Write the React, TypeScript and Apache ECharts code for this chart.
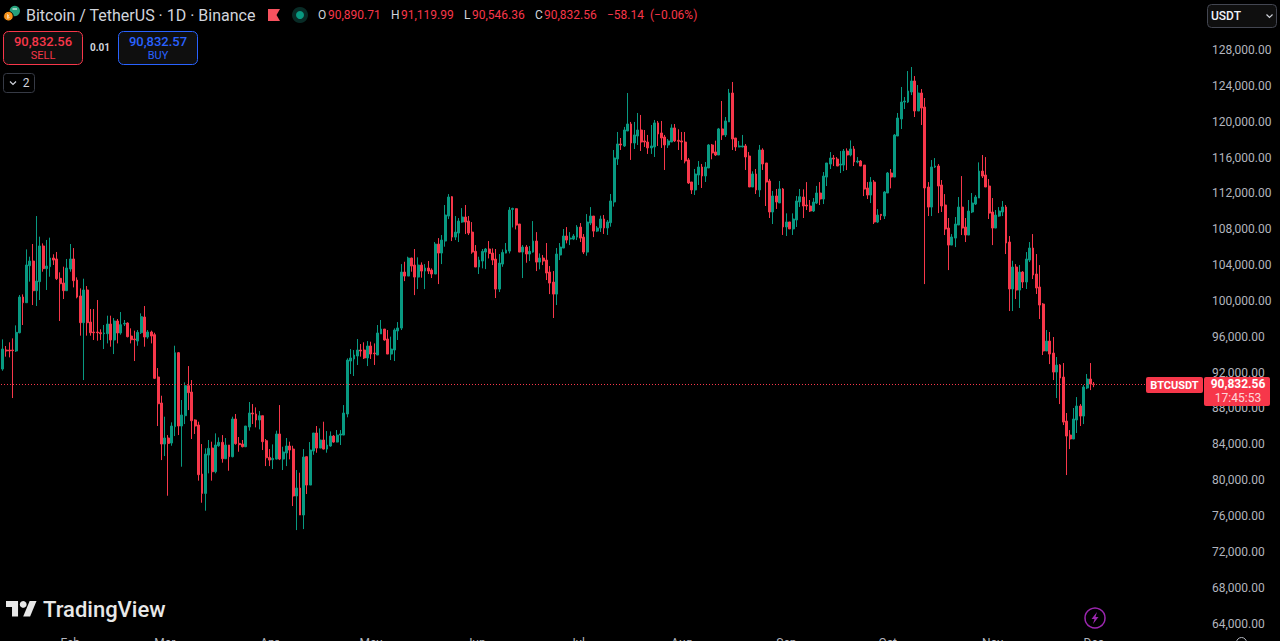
import React, { useEffect, useRef } from "react";
import * as echarts from "echarts";

const firstDay = "2025-01-12";
const lastLabelledDay = "2025-12-01";
const slotCount = 356;
const monthNames = ["Jan", "Feb", "Mar", "Apr", "May", "Jun", "Jul", "Aug", "Sep", "Oct", "Nov", "Dec"];

const opens = [
  92570, 94690, 94690, 94690, 94580, 96620, 100600, 99970, 104100, 104620,
  101310, 102320, 106300, 103770, 103990, 104960, 104850, 102690, 102170, 101310,
  103730, 104850, 102500, 100720, 97740, 101390, 97810, 96700, 96700, 96620,
  96510, 96510, 97590, 95810, 97930, 96590, 97590, 97700, 96250, 95920,
  95690, 96620, 98370, 96140, 96700, 96400, 91680, 88780, 84200, 84870,
  84310, 86130, 94390, 86210, 87360, 90710, 90000, 86880, 86320,
  80850, 78690, 82970, 83750, 81110, 84010, 84390, 82560, 84090, 82790,
  86990, 84270, 84200, 83900, 86100, 87660, 87550, 86880, 87360, 84570,
  82710, 82450, 82520, 85320, 82520, 83200, 83980, 83640, 78400, 79290,
  76280, 82790, 79620, 83420, 85430, 83750, 84650, 83640, 83980, 85090,
  84420, 85200, 85200, 87550, 93460, 93690, 94020, 94690, 94690, 93800,
  95140, 94350, 94130, 96480, 97030, 95920, 94240, 94690, 96810,
  97140, 103390, 102940, 104950, 104170, 102830, 104170, 103500, 103840, 103610,
  103170, 106510, 105510, 106850, 109640, 111800, 107290, 107740, 108970, 109530,
  109080, 107850, 105700, 103950, 104620, 105620, 105960, 105510, 104840, 101490,
  104280, 105510, 105730, 110380, 110460, 108750, 105620, 106180, 105400, 105620,
  106850, 104500, 104950, 104730, 103390, 102270, 100930, 105290, 106070, 107410,
  107070, 107070, 107290, 108410, 107290, 105620, 108860, 109640, 107960,
  108310, 109310, 108310, 108900, 111210, 116010, 117680, 117460, 119130, 119910,
  117790, 118570, 119240, 118020, 117900, 117240, 117350, 120030, 118910, 118460,
  117570, 117900, 119470, 118090, 118020, 117900, 115900, 113440, 112550, 114220,
  115110, 114110, 115000, 117570, 116790, 116450, 119360, 118690, 120140, 123370,
  118350, 117350, 117350, 117460, 116340, 112880, 114330, 112550, 117010, 115560,
  113550, 110090, 111880, 111100, 112660, 108420, 108980, 108200, 109200, 111210,
  111760, 110870, 110760, 110200, 111090, 112210, 111540, 113990, 115440, 116110,
  116000, 115330, 115330, 116890, 116450, 117120, 115670, 115780, 115330, 112770,
  111980, 113430, 108970, 109830, 109640, 112210, 114440, 113990, 118570, 120470,
  122360, 122360, 123480, 124710, 121360, 123370, 121800, 112880, 110640, 115110,
  115220, 113100, 110870, 108300, 106400, 107180, 108640, 110640, 108410, 107520,
  110090, 110980, 111650, 114660, 114220, 112990, 110090, 108300, 109640,
  110090, 110650, 106740, 101500, 103950, 101380, 103390, 102280, 104730, 106070,
  103170, 101720, 99820, 94580, 95690, 94350, 92230, 93010, 91670, 86760,
  85200, 84760, 86880, 88440, 87320, 90450, 91450, 90890.71,
];

const closes = [
  94800, 94580, 94580, 94620, 96660, 100600, 99970, 104180, 104620, 101310,
  102390, 106300, 103770, 104060, 104960, 104730, 102650, 102090, 101310, 103840,
  104850, 102430, 100600, 97740, 101390, 97740, 96620, 96620, 96620, 96510,
  96590, 97590, 95810, 97930, 96590, 97520, 97670, 96180, 95840, 95840,
  96660, 98410, 96140, 96700, 96250, 91530, 88700, 84200, 84870, 84270,
  86210, 94390, 86210, 87440, 90710, 89930, 86800, 86210, 80780,
  78690, 83080, 83720, 81110, 84090, 84390, 82560, 84090, 82790, 86990,
  84240, 84130, 83900, 86210, 87660, 87550, 86880, 87360, 84460, 82670,
  82410, 82600, 85320, 82520, 83310, 83980, 83530, 78400, 79290, 76280,
  82750, 79620, 83530, 85430, 83750, 84650, 83640, 84090, 85090, 84420,
  85200, 85320, 87660, 93570, 93800, 94130, 94690, 94580, 93800, 95140,
  94240, 94280, 96590, 97030, 95810, 94240, 94800, 96920, 97150,
  103390, 102940, 104950, 104060, 102830, 104170, 103500, 103840, 103500, 103170,
  106510, 105510, 106960, 109750, 111760, 107290, 107850, 109080, 109530, 108970,
  107740, 105620, 103950, 104730, 105700, 105960, 105470, 104730, 101490, 104390,
  105580, 105840, 110310, 110490, 108630, 105620, 106180, 105400, 105700, 106850,
  104500, 104950, 104620, 103280, 102160, 100930, 105400, 106180, 107410, 106960,
  107180, 107410, 108410, 107180, 105620, 108970, 109640, 107960, 108300,
  109310, 108310, 108980, 111320, 116120, 117680, 117570, 119240, 119910, 117790,
  118690, 119240, 117900, 117900, 117240, 117460, 120030, 118800, 118350, 117570,
  118020, 119470, 118020, 117980, 117900, 115780, 113330, 112550, 114330, 115110,
  114110, 115110, 117570, 116680, 116450, 119360, 118690, 120250, 123370, 118240,
  117350, 117460, 117460, 116230, 112880, 114330, 112550, 117010, 115450, 113440,
  110090, 111880, 111210, 112660, 108420, 108980, 108200, 109310, 111320, 111800,
  110760, 110760, 110200, 111200, 112210, 111540, 114100, 115560, 116110, 116000,
  115220, 115440, 116890, 116450, 117120, 115670, 115780, 115220, 112650, 111980,
  113430, 108970, 109750, 109710, 112320, 114440, 113990, 118680, 120580, 122360,
  122470, 123590, 124710, 121360, 123370, 121690, 112770, 110640, 115110, 115220,
  112990, 110760, 108190, 106400, 107300, 108750, 110640, 108300, 107520, 110200,
  111090, 111760, 114660, 114100, 112880, 109970, 108300, 109750, 110200,
  110650, 106630, 101500, 103950, 101380, 103390, 102280, 104840, 106070, 103060,
  101610, 99710, 94580, 95690, 94240, 92230, 93010, 91560, 86650, 85090,
  84760, 86990, 88440, 87320, 90560, 91450, 90890, 90832.56,
];

const highs = [
  95880, 95140, 95550, 95990, 97440, 100830, 100900, 105920, 105110, 106520,
  109640, 107340, 106590, 106970, 107230, 105370, 105630, 103360, 103990, 104850,
  106520, 106070, 102800, 101570, 102650, 101830, 99270, 99270, 100270, 97000,
  97480, 98520, 98520, 98260, 98150, 98930, 98040, 97780, 97110, 96850,
  96920, 98780, 99600, 96920, 96850, 96620, 92680, 89590, 87250, 85200,
  86620, 95170, 94470, 89110, 91080, 92900, 91340, 86950, 86690,
  84200, 83720, 84650, 84460, 85390, 84940, 85200, 84870, 84090, 87250,
  87550, 84980, 84650, 86210, 88890, 88660, 88290, 87880, 87360, 84760,
  83640, 84160, 85690, 88550, 83900, 84870, 84460, 84010, 81300, 81000,
  83640, 82790, 84420, 85430, 86210, 85950, 86690, 85650, 85610, 85200,
  85760, 85760, 88550, 93760, 94800, 94690, 95920, 95360, 95550, 95690,
  95620, 95430, 97480, 98040, 97030, 96920, 96180, 97110, 97810,
  104280, 104540, 105100, 104990, 105960, 105030, 104470, 104280, 104620, 103800,
  106740, 107180, 107520, 110870, 112090, 111870, 109640, 109420, 110530, 110870,
  109640, 108970, 106400, 105100, 105960, 106070, 106850, 106030, 105960, 105400,
  105920, 106630, 110640, 110570, 110490, 108750, 106400, 106400, 106290, 109080,
  107850, 105470, 105290, 106630, 104060, 103500, 106070, 106630, 108190, 108410,
  107850, 107630, 108630, 108860, 107630, 109860, 110640, 109640, 108520,
  109680, 109760, 109200, 112100, 117010, 119020, 118350, 119580, 123370, 120140,
  120140, 121140, 120920, 119240, 118690, 119800, 120360, 120250, 120250, 118690,
  118240, 119880, 119910, 119320, 119020, 119020, 116120, 113440, 114890, 115780,
  115450, 115670, 117680, 117680, 118050, 119470, 122480, 120690, 123820, 124600,
  118350, 118020, 118690, 117680, 116790, 114630, 114890, 117570, 117200, 115560,
  113780, 112440, 112660, 113550, 112770, 109940, 108980, 109940, 111880, 112660,
  112620, 113430, 111430, 111650, 113000, 113430, 114550, 115560, 116780, 116450,
  116220, 116890, 117120, 117190, 118080, 117450, 116220, 115890, 115330, 113430,
  113990, 113660, 110420, 109860, 112430, 114550, 114890, 118790, 121140, 124040,
  122920, 125820, 126270, 125260, 124260, 123810, 122810, 113430, 115890, 116110,
  115440, 113660, 112090, 109420, 107630, 109530, 111760, 114100, 109420, 111430,
  112210, 111980, 115630, 116450, 116220, 113770, 111650, 110310, 110640,
  111320, 110870, 107410, 104650, 104280, 104170, 103500, 105620, 106740, 107630,
  105400, 104170, 99930, 96920, 96700, 96140, 93910, 93120, 93240, 87660,
  85760, 88220, 89440, 88660, 90780, 92010, 93240, 91119.99,
];

const lows = [
  92380, 93950, 93870, 89330, 94470, 96550, 97480, 99970, 102320, 99710,
  99600, 100270, 103430, 101390, 102870, 104180, 102500, 97930, 100380, 101310,
  103430, 101680, 100460, 96290, 91340, 96290, 96290, 95810, 95730, 95810,
  94800, 95430, 95060, 94240, 95430, 96400, 97370, 96100, 95430, 93460,
  95170, 96480, 95060, 95950, 95430, 91450, 86210, 82410, 82860, 78430,
  84010, 85090, 85200, 81670, 86430, 87990, 84760, 85320, 80110,
  77650, 76760, 80930, 80110, 80930, 83900, 82120, 82520, 81220, 82710,
  84130, 83340, 83830, 83860, 85690, 86430, 86060, 85840, 83530, 81740,
  81740, 81410, 82490, 82410, 81300, 81740, 82490, 77280, 74600, 76280,
  74710, 78620, 79620, 83000, 83230, 83750, 83600, 83230, 83900, 84350,
  84390, 84090, 85200, 87180, 92010, 91790, 93020, 93950, 93690, 92900,
  93690, 93020, 94130, 96480, 95730, 94240, 93570, 93460, 95810,
  96920, 102380, 102940, 103430, 100820, 101490, 102760, 101490, 103170, 102720,
  103170, 102050, 104280, 106220, 109300, 106850, 106960, 106740, 108890, 107630,
  107520, 105430, 103950, 103170, 103800, 103720, 104910, 104170, 100490, 101160,
  103980, 105470, 105470, 108370, 108150, 105620, 102720, 104430, 104620, 105550,
  103500, 103690, 104170, 102500, 100930, 98260, 99710, 104730, 106070, 106590,
  106400, 106960, 106960, 106740, 105400, 105210, 108630, 107290, 107850,
  107860, 107640, 107530, 108450, 110690, 115340, 117010, 117350, 119130, 115900,
  117120, 117570, 116900, 117350, 116570, 116570, 116230, 117460, 117240, 114780,
  117240, 117900, 117900, 117010, 115900, 115520, 113220, 112100, 111990, 113110,
  112770, 113440, 115000, 115970, 116340, 116450, 118130, 118460, 120140, 117010,
  116900, 117310, 117310, 114780, 112880, 112880, 112100, 111770, 114780, 110760,
  109420, 108750, 110430, 111100, 107530, 107410, 108200, 107530, 108420, 110650,
  109420, 110310, 110090, 110090, 110980, 110870, 110980, 112990, 114890, 115220,
  115220, 114440, 114660, 114770, 116300, 115220, 115520, 115220, 111870, 111540,
  111090, 108750, 108860, 109190, 109310, 112210, 112730, 113990, 118570, 119350,
  121580, 122250, 123140, 120690, 121360, 119800, 102050, 109640, 109640, 115000,
  109970, 110090, 107520, 103610, 106400, 106180, 108640, 107520, 106740, 107520,
  109970, 110870, 111650, 113880, 112880, 109310, 106400, 108300, 109560,
  109640, 105400, 99040, 99040, 100380, 99380, 101610, 101500, 104510, 102610,
  100940, 98150, 94130, 94580, 93120, 91340, 89330, 88660, 86320, 80740,
  83640, 84760, 85430, 86210, 86430, 90330, 90220, 90546.36,
];

const lastPrice = 90832.56;
const UP = "#089981";
const DOWN = "#f7374a";
const FONT = "Roboto, 'Liberation Sans', sans-serif";

const text = (x: number, y: number, t: string, fill: string, size = 12, weight = 400, align = "left") => ({
  type: "text",
  x,
  y,
  z: 100,
  silent: true,
  style: {
    text: t,
    fill,
    font: `${weight} ${size}px ${FONT}`,
    textAlign: align,
    textVerticalAlign: "middle",
  },
});

const box = (x: number, y: number, w: number, h: number, r: number, fill: string, stroke?: string) => ({
  type: "rect",
  z: 90,
  silent: true,
  shape: { x, y, width: w, height: h, r },
  style: { fill, stroke: stroke ?? "none", lineWidth: 1 },
});

const chevron = (x: number, y: number, color: string) => ({
  type: "polyline",
  z: 100,
  silent: true,
  shape: { points: [[x - 3, y - 1.5], [x, y + 1.5], [x + 3, y - 1.5]] },
  style: { stroke: color, lineWidth: 1.2, fill: "none" },
});

function headerGraphics() {
  const grey = "#d1d4dc";
  return [
    { type: "circle", z: 95, silent: true, shape: { cx: 14.8, cy: 11, r: 5.2 }, style: { fill: "#26a17b" } },
    { type: "polyline", z: 96, silent: true, shape: { points: [[12.5, 9], [17, 9]] }, style: { stroke: "#e8f5f0", lineWidth: 1.2, fill: "none" } },
    { type: "circle", z: 97, silent: true, shape: { cx: 8.4, cy: 16.2, r: 4.8 }, style: { fill: "#f7931a", stroke: "#000", lineWidth: 1 } },
    { type: "polyline", z: 98, silent: true, shape: { points: [[7.6, 14], [7.6, 18.4], [9.4, 17.4], [7.6, 16.2], [9.2, 15]] }, style: { stroke: "#fde4c0", lineWidth: 0.8, fill: "none" } },
    text(26, 15, "Bitcoin / TetherUS · 1D · Binance", grey, 16),
    { type: "polygon", z: 95, silent: true, shape: { points: [[268, 9], [280, 9], [276.5, 15], [280, 21], [268, 21]] }, style: { fill: "#f7525f" } },
    { type: "circle", z: 95, silent: true, shape: { cx: 300, cy: 15, r: 8 }, style: { fill: "#082b26" } },
    { type: "circle", z: 96, silent: true, shape: { cx: 300, cy: 15, r: 4 }, style: { fill: UP } },
    text(318, 15, "O", grey, 12), text(328, 15, "90,890.71", DOWN, 12),
    text(391, 15, "H", grey, 12), text(401, 15, "91,119.99", DOWN, 12),
    text(464, 15, "L", grey, 12), text(472, 15, "90,546.36", DOWN, 12),
    text(535, 15, "C", grey, 12), text(544, 15, "90,832.56", DOWN, 12),
    text(607, 15, "−58.14", DOWN, 12), text(650, 15, "(−0.06%)", DOWN, 12),
    box(3.5, 31.5, 79, 33, 5, "#0f0f0f", DOWN),
    text(43, 41, "90,832.56", DOWN, 13, 500, "center"),
    text(43, 55, "SELL", DOWN, 11, 400, "center"),
    text(100, 47, "0.01", grey, 10, 700, "center"),
    box(118.5, 31.5, 79, 33, 5, "#0f0f0f", "#2962ff"),
    text(158, 41, "90,832.57", "#2962ff", 13, 500, "center"),
    text(158, 55, "BUY", "#2962ff", 11, 400, "center"),
    box(3.5, 73.5, 31, 19, 3, "#000", "#363a45"),
    chevron(13, 83, grey),
    text(26, 83, "2", grey, 12, 400, "center"),
  ];
}

function rightGraphics() {
  return [
    box(1207.5, 4.5, 69, 23, 4, "#0f0f0f", "#434651"),
    text(1211, 16, "USDT", "#f0f3fa", 12, 500),
    chevron(1269.5, 16, "#d1d4dc"),
    box(1146, 377, 57, 16, 2, DOWN),
    text(1174.5, 385, "BTCUSDT", "#ffffff", 11, 700, "center"),
    box(1204, 377, 66, 29, 2, DOWN),
    text(1238, 384, "90,832.56", "#ffffff", 12, 700, "center"),
    text(1238, 398, "17:45:53", "rgba(255,255,255,0.8)", 12, 400, "center"),
  ];
}

function brandGraphics() {
  return [
    {
      type: "group",
      x: 6,
      y: 597.5,
      scaleX: 0.86,
      scaleY: 0.86,
      z: 100,
      silent: true,
      children: [
        { type: "polygon", z: 100, shape: { points: [[0, 4], [14, 4], [14, 22], [7, 22], [7, 11], [0, 11]] }, style: { fill: "#e8e8e8" } },
        { type: "circle", z: 100, shape: { cx: 20, cy: 8, r: 4 }, style: { fill: "#e8e8e8" } },
        { type: "polygon", z: 100, shape: { points: [[27.5, 4], [35.5, 4], [28, 22], [20, 22]] }, style: { fill: "#e8e8e8" } },
      ],
    },
    text(43, 609, "TradingView", "#e8e8e8", 22, 500),
    { type: "circle", z: 100, silent: true, shape: { cx: 1095, cy: 618, r: 10 }, style: { fill: "none", stroke: "#9c27b0", lineWidth: 1.5 } },
    { type: "polygon", z: 100, silent: true, shape: { points: [[1097, 612], [1091.5, 619], [1094.5, 619], [1093, 624], [1098.5, 617], [1095.5, 617]] }, style: { fill: "#9c27b0" } },
    box(1236.5, 637.5, 10, 10, 5, "#000", "#b2b5be"),
  ];
}

export default function App() {
  const ref = useRef<HTMLDivElement>(null);

  useEffect(() => {
    document.body.style.margin = "0";
    document.body.style.background = "#000";
    document.body.style.overflow = "hidden";
    const chart = echarts.init(ref.current!, undefined, { renderer: "svg" });

    const start = Date.parse(firstDay + "T00:00:00Z");
    const days: string[] = [];
    for (let i = 0; i < slotCount; i++) {
      days.push(new Date(start + i * 86400000).toISOString().slice(0, 10));
    }
    const candles = opens.map((o, i) => [o, closes[i], lows[i], highs[i]]);

    const plainAxis = {
      axisLine: { show: false },
      axisTick: { show: false },
      splitLine: { show: false },
    };

    chart.setOption({
      animation: false,
      backgroundColor: "#000000",
      grid: [
        { left: 1, width: 1202.6, top: 15.66, height: 609.4, containLabel: false, outerBoundsMode: "none" },
        // the price labels sit just above their true level, as on the reference
        { left: 1, width: 1202.6, top: 14.16, height: 609.4, containLabel: false, outerBoundsMode: "none" },
      ],
      xAxis: [
        {
          type: "category",
          data: days,
          ...plainAxis,
          axisLabel: {
            interval: (_: number, v: string) => v.endsWith("-01") && v <= lastLabelledDay,
            formatter: (v: string) => monthNames[Number(v.slice(5, 7)) - 1],
            color: "#b2b5be",
            fontFamily: FONT,
            fontSize: 12,
            margin: 12,
          },
        },
        { type: "category", gridIndex: 1, data: days, show: false },
      ],
      yAxis: [
        {
          type: "value",
          position: "right",
          min: 64000,
          max: 132000,
          interval: 4000,
          ...plainAxis,
          axisLabel: { show: false },
        },
        {
          type: "value",
          gridIndex: 1,
          position: "right",
          min: 64000,
          max: 132000,
          interval: 4000,
          ...plainAxis,
          axisLabel: {
            margin: 8.4,
            color: "#b2b5be",
            fontFamily: FONT,
            fontSize: 12,
            formatter: (v: number) =>
              v >= 132000 ? "" : v.toLocaleString("en-US", { minimumFractionDigits: 2, maximumFractionDigits: 2 }),
          },
        },
      ],
      series: [
        {
          type: "candlestick",
          data: candles,
          barWidth: 2.4,
          itemStyle: {
            color: UP,
            color0: DOWN,
            borderColor: UP,
            borderColor0: DOWN,
            borderWidth: 1,
          },
          markLine: {
            silent: true,
            symbol: "none",
            label: { show: false },
            lineStyle: { color: DOWN, type: [1, 2], width: 1 },
            data: [{ yAxis: lastPrice }],
          },
        },
      ],
      graphic: { elements: [...headerGraphics(), ...rightGraphics(), ...brandGraphics()] },
    });

    return () => chart.dispose();
  }, []);

  return <div ref={ref} style={{ position: "fixed", left: 0, top: 0, width: 1280, height: 641, background: "#000" }} />;
}
